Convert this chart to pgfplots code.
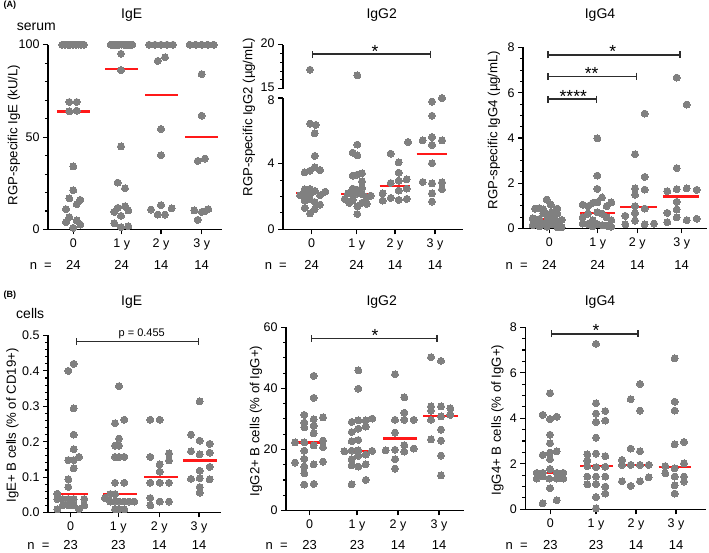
\documentclass[border=0pt]{standalone}
\usepackage{fontspec}
\setmainfont{Liberation Sans}
\usepackage{pgfplots}
\pgfplotsset{compat=1.18}
\usetikzlibrary{arrows.meta}
\definecolor{dotgray}{RGB}{128,128,128}
\definecolor{medred}{RGB}{255,25,25}
\definecolor{brk}{RGB}{45,45,45}
\pgfplotsset{
  gp/.style={
    scale only axis, clip=false,
    axis x line*=bottom, axis y line*=left,
    axis line style={line width=1.4pt,-},
    tick style={line width=1.1pt,black},
    major tick length=5pt, minor tick length=3pt,
    tick align=outside,
    minor x tick num=0,
    tick label style={font=\fontsize{12.5}{14}\selectfont},
    xticklabel style={yshift=-1pt},
    /pgf/number format/assume math mode=true,
    xticklabels={0,1 y,2 y,3 y},
  },
  dots/.style={only marks, color=dotgray, mark=*, mark size=3.5pt, mark options={solid, draw=dotgray, fill=dotgray, line width=0pt}},
  med/.style={no marks, draw=medred, line width=2.2pt},
}
\tikzset{brack/.style={draw=brk, line width=1.4pt, {Bar[width=7pt]}-{Bar[width=7pt]}}}
\newcommand\titlefont{\fontsize{14}{16}\selectfont}
\newcommand\labfont{\fontsize{13.2}{15}\selectfont}
\newcommand\nfont{\fontsize{13}{15}\selectfont}
\newcommand\starfont{\fontsize{17.5}{18}\selectfont}
\begin{document}
\begin{tikzpicture}
\useasboundingbox (0,0) rectangle (709pt,553pt);
% ---------------- texts
\node[font=\bfseries\fontsize{9}{10}\selectfont, anchor=base west] at (0pt,545pt) {(A)};
\node[font=\bfseries\fontsize{9}{10}\selectfont, anchor=base west] at (0pt,255pt) {(B)};
\node[font=\titlefont, anchor=base west] at (13.3pt,522.3pt) {serum};
\node[font=\titlefont, anchor=base west] at (12.7pt,234.7pt) {cells};
\foreach \x/\t in {131.7/IgE,381.7/IgG2,600/IgG4}{
  \node[font=\titlefont, anchor=base] at (\x pt,534.3pt) {\t};
  \node[font=\titlefont, anchor=base] at (\x pt,247.7pt) {\t};
}
\node[font=\labfont, rotate=90] at (14pt,418pt) {RGP-specific IgE (kU/L)};
\node[font=\labfont, rotate=90] at (249pt,436pt) {RGP-specific IgG2 (µg/mL)};
\node[font=\labfont, rotate=90] at (494pt,423pt) {RGP-specific IgG4 (µg/mL)};
\node[font=\labfont, rotate=90] at (12.5pt,127.5pt) {IgE+ B cells (\% of CD19+)};
\node[font=\labfont, rotate=90] at (256pt,132pt) {IgG2+ B cells (\% of IgG+)};
\node[font=\labfont, rotate=90] at (497.5pt,133pt) {IgG4+ B cells (\% of IgG+)};
% n rows
\foreach \x in {40.8,275.8,516.7}{\node[font=\nfont, anchor=base] at (\x pt,283pt) {n\ \ =};}
\foreach \x in {38.5,276.7,516.7}{\node[font=\nfont, anchor=base] at (\x pt,3pt) {n\ \ =};}
\foreach \x/\n in {73.3/24,121.7/24,161/14,201.7/14,311.7/24,356.7/24,395/14,435/14,549.3/24,597.7/24,637.3/14,681.7/14}{
  \node[font=\nfont, anchor=base] at (\x pt,283pt) {\n};}
\foreach \x/\n in {70.7/23,118.3/23,159.3/14,199/14,309.7/23,357/23,398/14,439/14,550.3/23,596/23,636/14,676/14}{
  \node[font=\nfont, anchor=base] at (\x pt,3pt) {\n};}

% ================= A: IgE
\begin{axis}[gp, at={(48pt,323.5pt)}, anchor=south west, width=174pt, height=184.8pt,
  xmin=48, xmax=222, ymin=0, ymax=100, xtick={73.3,121.7,161,201.7},
  ytick={0,50,100}, minor y tick num=4]
\addplot[dots] coordinates {(62.3,100) (65,100) (67.7,100) (70.4,100) (73.1,100) (75.8,100) (78.5,100) (81.2,100) (84,100)
 (69.3,69) (76.7,69) (69.3,64.0) (76.7,64.3) (73.3,34.1) (73.3,21.3) (69.3,16.8) (80.3,16.0) (76.7,13.7) (66,11.0) (69.3,6.7) (66,4.0) (76.7,4.9) (80.3,2.7) (73.3,0.9)};
\addplot[dots] coordinates {(110.7,100) (112.9,100) (115,100) (117.2,100) (119.3,100) (121.5,100) (123.7,100) (125.8,100) (128,100) (130.1,100) (132.3,100)
 (121,95.1) (121,86.3) (121,45.0) (117.7,25.4) (125,22.3) (117.7,11.7) (125,12.6) (114.3,9.5) (128.3,10.3) (121,7.4) (114.3,3.4) (121,1.3) (128.3,1.8)};
\addplot[dots] coordinates {(149,100) (155,100) (161,100) (167,100) (173,100)
 (157.7,91.2) (165,93.2) (161,54.4) (161,40.2) (151,10.8) (161,13.2) (171.7,11.4) (157.7,8.1) (165,8.1)};
\addplot[dots] coordinates {(189.7,100) (195.7,100) (201.7,100) (207.7,100) (213.7,100)
 (201.7,84.1) (201.7,61.6) (197.7,37.1) (205,38.4) (194.3,10.3) (201.7,9.5) (205,9.9) (208.3,11.0) (197.7,5.2)};
\addplot[med] coordinates {(57,63.8) (89.6,63.8)};
\addplot[med] coordinates {(105,86.7) (138,86.7)};
\addplot[med] coordinates {(145,72.8) (177.5,72.8)};
\addplot[med] coordinates {(185,50.0) (218.3,50.0)};
\end{axis}

% ================= A: IgG2 (lower segment)
\begin{axis}[gp, at={(283pt,323.7pt)}, anchor=south west, width=180pt, height=131.3pt,
  xmin=283, xmax=463, ymin=0, ymax=8, xtick={311.7,356.7,395,435},
  ytick={0,4}, minor y tick num=3, extra y ticks={8},
  extra y tick style={yticklabel style={yshift=-1.8pt}}]
\addplot[dots] coordinates {(310,6.44) (315.7,6.36) (314.7,5.85) (314.7,4.47) (304.7,3.47) (310,3.57) (314.7,3.78) (320,3.61) (304.7,2.44) (314.7,2.34) (300,2.07) (304.7,2.11) (310,2.11) (320,2.07) (325.3,2.29) (310,2.45) (304.7,1.75) (310,1.83) (314.7,1.66) (320,1.50) (304.7,1.30) (314.7,1.22) (310,0.97)};
\addplot[dots] coordinates {(357.3,5.16) (352.7,4.67) (357.3,4.51) (352.7,3.27) (357.3,3.33) (362,3.41) (362,2.92) (352.7,2.48) (362,2.52) (357.3,2.40) (348,2.19) (352.7,2.22) (357.3,2.17) (362,2.15) (370.7,2.05) (344.7,1.85) (352.7,1.80) (366.7,1.95) (349.3,1.60) (362,1.62) (366.7,1.55) (357.3,1.40) (357.3,0.93)};
\addplot[dots] coordinates {(408,5.32) (390.7,4.61) (398.7,4.08) (398.7,3.45) (390.7,2.82) (398.7,2.96) (406.7,3.05) (382.7,2.19) (398.7,2.36) (406.7,2.48) (382.7,1.75) (390.7,1.91) (398.7,1.79) (406.7,1.85)};
\addplot[dots] coordinates {(442,8.0) (432,7.78) (432,6.92) (432,5.62) (422.7,5.42) (442,5.42) (432,5.14) (432,4.02) (422.7,2.88) (432,2.80) (442,2.86) (432,2.19) (442,2.44) (432,1.69)};
\addplot[med] coordinates {(296.4,2.19) (327,2.19)};
\addplot[med] coordinates {(341.4,2.17) (372,2.17)};
\addplot[med] coordinates {(379.7,2.66) (410.3,2.66)};
\addplot[med] coordinates {(416.7,4.58) (447.3,4.58)};
\end{axis}
% ================= A: IgG2 (upper segment)
\begin{axis}[gp, at={(283pt,464.3pt)}, anchor=south west, width=180pt, height=44pt,
  xmin=283, xmax=463, ymin=15, ymax=20, axis x line=none, xtick=\empty,
  ytick={15,20}, minor y tick num=4, yticklabel style={yshift=1.2pt}]
\addplot[dots] coordinates {(310,17.16) (357.3,16.52)};
\draw[brack] (axis cs:311.7,18.94) -- (axis cs:431,18.94);
\node[font=\starfont, anchor=base, yshift=-3pt] at (axis cs:375,18.94) {*};
\end{axis}

% ================= A: IgG4
\begin{axis}[gp, at={(523pt,324.5pt)}, anchor=south west, width=184pt, height=181pt,
  xmin=523, xmax=707, ymin=0, ymax=8, xtick={549.3,597.7,637.3,681.7},
  ytick={0,2,4,6,8}, minor y tick num=3]
\addplot[dots] coordinates {(546.7,1.28) (535,0.88) (539.3,0.90) (550.7,1.06) (557.3,0.88) (543.3,0.85) (551.7,0.72) (543.3,0.68) (557.3,0.65) (547,0.62) (532.7,0.45) (539.3,0.42) (553,0.40) (561.7,0.38) (547,0.35) (557.3,0.30) (535,0.28) (543.3,0.20) (551.7,0.18) (532.7,0.15) (539.3,0.10) (547,0.08) (557.3,0.05) (561.7,0.05)};
\addplot[dots] coordinates {(597.3,3.99) (597.3,2.34) (597.3,1.75) (602,1.37) (611.3,1.16) (582.7,1.05) (588,0.99) (592.7,1.13) (597.3,1.16) (606.7,0.99) (597.3,0.72) (588,0.66) (602,0.66) (582.7,0.49) (606.7,0.49) (592.7,0.37) (611.3,0.37) (582.7,0.22) (588,0.20) (597.3,0.18) (602,0.15) (606.7,0.12) (592.7,0.10) (611.3,0.08)};
\addplot[dots] coordinates {(644.7,5.08) (635,3.28) (644.7,2.28) (635,1.77) (644.7,1.72) (635,1.49) (635,0.99) (644.7,0.88) (625.3,0.56) (635,0.68) (635,0.35) (625.3,0.18) (644.7,0.18) (654,0.22)};
\addplot[dots] coordinates {(676.7,6.67) (686.7,5.48) (676.7,2.67) (667.3,1.65) (676.7,1.74) (686.7,1.77) (696.7,1.71) (676.7,1.18) (667.3,0.69) (676.7,0.84) (676.7,0.49) (696.7,0.43) (686.7,0.37) (667.3,0.28)};
\addplot[med] coordinates {(533.3,0.40) (563.3,0.40)};
\addplot[med] coordinates {(580,0.69) (615,0.69)};
\addplot[med] coordinates {(620,0.94) (657.3,0.94)};
\addplot[med] coordinates {(663.3,1.41) (699.3,1.41)};
\draw[brack] (axis cs:547.3,7.67) -- (axis cs:680.7,7.67);
\draw[brack] (axis cs:547.3,6.73) -- (axis cs:637.3,6.73);
\draw[brack] (axis cs:547.3,5.72) -- (axis cs:597.3,5.72);
\node[font=\starfont, anchor=base, yshift=-3pt] at (axis cs:612.7,7.67) {*};
\node[font=\starfont, anchor=base, yshift=-3pt] at (axis cs:591.7,6.73) {**};
\node[font=\starfont, anchor=base, yshift=-3pt] at (axis cs:573.3,5.72) {****};
\end{axis}

% ================= B: IgE
\begin{axis}[gp, at={(48pt,40.5pt)}, anchor=south west, width=173pt, height=177pt,
  xmin=48, xmax=221, ymin=0, ymax=0.5, xtick={70.7,118.3,159.3,199},
  ytick={0,0.1,0.2,0.3,0.4,0.5}, minor y tick num=4,
  yticklabel style={/pgf/number format/.cd, fixed, fixed zerofill, precision=1}]
\addplot[dots] coordinates {(73.7,0.420) (68.3,0.400) (73.7,0.294) (73.7,0.220) (73.7,0.179) (68.3,0.148) (73.7,0.148) (79,0.157) (73.7,0.125) (68.3,0.094) (68.3,0.072) (57.3,0.053)
 (57.3,0.038) (62.7,0.038) (68.3,0.038) (73.7,0.038) (84.3,0.038) (62.7,0.020) (68.3,0.020) (73.7,0.020) (84.3,0.020) (57.3,0.009) (79,0.009)};
\addplot[dots] coordinates {(119,0.357) (115,0.252) (124.3,0.262) (119,0.209) (115,0.189) (119,0.189) (115,0.157) (119,0.157) (124.3,0.157) (115,0.084) (124.3,0.084) (105,0.041) (110.3,0.052) (115,0.052) (110.3,0.031) (115,0.031) (119,0.031) (124.3,0.031) (129,0.031) (134.3,0.031) (115,0.009) (119,0.009) (124.3,0.009)};
\addplot[dots] coordinates {(150.3,0.262) (159.7,0.262) (150.3,0.157) (169,0.167) (159.7,0.136) (169,0.147) (159.7,0.115) (150.3,0.084) (159.7,0.084) (169,0.084) (150.3,0.041) (169,0.031) (159.7,0.031) (150.3,0.020)};
\addplot[dots] coordinates {(199.7,0.314) (191,0.220) (199.7,0.203) (209.7,0.194) (191,0.173) (199.7,0.164) (209.7,0.169) (209.7,0.129) (199.7,0.118) (191,0.095) (199.7,0.097) (209.7,0.094) (199.7,0.072) (199.7,0.056)};
\addplot[med] coordinates {(55,0.052) (88.3,0.052)};
\addplot[med] coordinates {(103.3,0.052) (136.7,0.052)};
\addplot[med] coordinates {(144.3,0.100) (177.7,0.100)};
\addplot[med] coordinates {(183.3,0.147) (217.3,0.147)};
\draw[brack] (axis cs:76,0.4825) -- (axis cs:199,0.4825);
\end{axis}
\node[font=\fontsize{11}{13}\selectfont, anchor=base] at (141.7pt,216.3pt) {p = 0.455};

% ================= B: IgG2
\begin{axis}[gp, at={(286pt,42.5pt)}, anchor=south west, width=178pt, height=183.2pt,
  xmin=286, xmax=464, ymin=0, ymax=60, xtick={309.7,357,398,439},
  ytick={0,20,40,60}, minor y tick num=3]
\addplot[dots] coordinates {(313.7,44.1) (313.7,36.9) (304.3,31.3) (313.7,29.9) (323,30.5) (304.3,28.8) (304.3,27.2) (313.7,27.7) (313.7,25.3) (295,22.3) (304.3,22.3) (323,22.9) (313.7,21.3) (323,20.7) (304.3,19.6) (304.3,16.9) (295,15.7) (323,16.0) (313.7,15.1) (304.3,14.4) (304.3,12.2) (304.3,8.5) (313.7,8.7)};
\addplot[dots] coordinates {(358.3,45.9) (358.3,39.9) (372.3,30.1) (351.7,29.0) (358.3,29.5) (365.7,29.5) (351.7,25.7) (358.3,26.8) (365.7,27.5) (351.7,22.7) (358.3,23.1) (344.3,19.4) (351.7,19.6) (358.3,19.7) (372.3,19.5) (351.7,16.8) (358.3,17.9) (365.7,18.3) (351.7,14.8) (365.7,15.1) (358.3,14.4) (351.7,8.6) (365.7,10.0)};
\addplot[dots] coordinates {(395,44.6) (404.3,37.1) (404.3,32.0) (395,29.7) (404.3,29.7) (413.7,29.7) (395,25.5) (385.7,19.7) (395,19.9) (404.3,21.4) (413.7,20.3) (404.3,19.3) (395,16.8) (395,13.7)};
\addplot[dots] coordinates {(431,50.2) (441,49.0) (431,34.1) (441,34.1) (450.3,33.5) (431,32.7) (450.3,31.3) (441,30.8) (431,29.7) (441,26.5) (431,23.3) (441,22.9) (441,18.0) (441,11.5)};
\addplot[med] coordinates {(293,22.3) (326.3,22.3)};
\addplot[med] coordinates {(344.7,19.5) (375.7,19.5)};
\addplot[med] coordinates {(383,23.6) (417,23.6)};
\addplot[med] coordinates {(423,31.0) (458,31.0)};
\draw[brack] (axis cs:311,56.4) -- (axis cs:437.7,56.4);
\node[font=\starfont, anchor=base, yshift=-3pt] at (axis cs:375,56.4) {*};
\end{axis}

% ================= B: IgG4
\begin{axis}[gp, at={(525.3pt,43.7pt)}, anchor=south west, width=180.7pt, height=182pt,
  xmin=525.3, xmax=706, ymin=0, ymax=8, xtick={550.3,596,636,676},
  ytick={0,2,4,6,8}, minor y tick num=3]
\addplot[dots] coordinates {(550,5.10) (542.7,4.15) (550,3.97) (556.7,4.07) (550,3.28) (550,2.90) (542.7,2.39) (550,2.49) (556.7,2.55) (550,2.20) (550,1.77) (536.7,1.60) (542.7,1.60) (556.7,1.60) (563.3,1.60) (536.7,1.35) (542.7,1.45) (549.3,1.35) (556.7,1.35) (563.3,1.35) (550,0.93) (542.7,0.26) (556.7,0.40)};
\addplot[dots] coordinates {(596,7.27) (596,4.66) (596,4.21) (605.3,4.32) (596,3.84) (605.3,3.90) (596,3.15) (587.3,2.42) (596,2.45) (605.3,2.34) (587.3,2.14) (587.3,1.90) (596,1.85) (605.3,1.87) (587.3,1.44) (596,1.44) (605.3,1.44) (587.3,1.10) (596,1.11) (605.3,1.00) (605.3,0.69) (596,0.54) (596,0.04)};
\addplot[dots] coordinates {(640,5.51) (630.7,4.84) (640,4.34) (630.7,2.67) (640,2.55) (622,2.17) (622,1.95) (630.7,1.95) (640,1.95) (648.7,1.95) (622,1.23) (640,1.23) (648.7,1.41) (630.7,1.03)};
\addplot[dots] coordinates {(674.7,6.64) (674.7,4.73) (674.7,4.34) (684,2.96) (674.7,2.86) (684,2.02) (665.3,1.90) (674.7,1.80) (665.3,1.58) (674.7,1.44) (684,1.44) (684,1.22) (674.7,1.05) (674.7,0.69)};
\addplot[med] coordinates {(533.7,1.61) (567,1.61)};
\addplot[med] coordinates {(580.3,1.90) (612.7,1.90)};
\addplot[med] coordinates {(618.7,1.93) (651.3,1.93)};
\addplot[med] coordinates {(658.7,1.85) (691.3,1.85)};
\draw[brack] (axis cs:550.7,7.71) -- (axis cs:638.7,7.71);
\node[font=\starfont, anchor=base, yshift=-3pt] at (axis cs:596,7.71) {*};
\end{axis}
\end{tikzpicture}
\end{document}
